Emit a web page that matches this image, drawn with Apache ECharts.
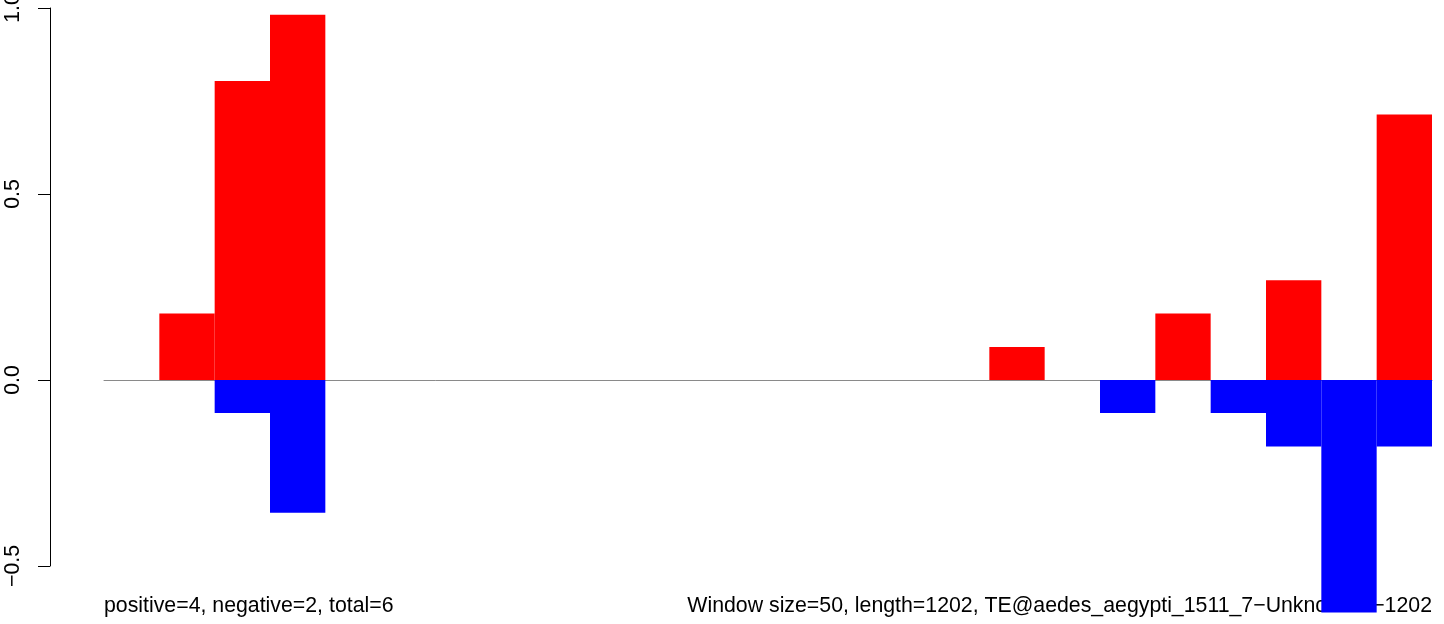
<!DOCTYPE html>
<html>
<head>
<meta charset="utf-8">
<script src="https://cdn.jsdelivr.net/npm/echarts@6/dist/echarts.min.js"></script>
<style>html,body{margin:0;padding:0;background:#fff}#c{width:1444px;height:624px}</style>
</head>
<body>
<div id="c"></div>
<script>
// window start positions (window size 50, length 1202)
const categories = ['1','51','101','151','201','251','301','351','401','451','501','551','601','651','701','751','801','851','901','951','1001','1051','1101','1151'];
const positiveValues = [0, 0.179, 0.804, 0.982, 0, 0, 0, 0, 0, 0, 0, 0, 0, 0, 0, 0, 0.089, 0, 0, 0.179, 0, 0.268, 0, 0.714];
const negativeValues = [0, 0, -0.089, -0.357, 0, 0, 0, 0, 0, 0, 0, 0, 0, 0, 0, 0, 0, 0, -0.089, 0, -0.089, -0.179, -0.625, -0.179];
const yTicks = [-0.5, 0.0, 0.5, 1.0];
const leftNote = 'positive=4, negative=2, total=6';
const rightNote = 'Window size=50, length=1202, TE@aedes_aegypti_1511_7\u2212Unknown:1\u22121202';

const FONT = "'Liberation Sans', Arial, Helvetica, sans-serif";
const chart = echarts.init(document.getElementById('c'), null, {renderer: 'canvas'});
chart.setOption({
  animation: false,
  backgroundColor: '#ffffff',
  grid: {left: 104, right: 12, top: 8, bottom: 58, containLabel: false, outerBoundsMode: 'none'},
  xAxis: {
    type: 'category',
    data: categories,
    boundaryGap: true,
    axisLine: {show: true, onZero: true, lineStyle: {color: '#8a8a8a', width: 1}},
    axisTick: {show: false},
    axisLabel: {show: false},
    splitLine: {show: false}
  },
  yAxis: {
    type: 'value',
    min: yTicks[0],
    max: yTicks[yTicks.length - 1],
    interval: 0.5,
    offset: 54,
    axisLine: {show: true, lineStyle: {color: '#000', width: 1}},
    axisTick: {show: true, length: 12, lineStyle: {color: '#000', width: 1}},
    splitLine: {show: false},
    axisLabel: {
      rotate: 90,
      margin: 26,
      color: '#000',
      fontFamily: FONT,
      fontSize: 21.3,
      hideOverlap: false,
      formatter: v => v.toFixed(1).replace('-', '\u2212')
    }
  },
  series: [
    {
      type: 'bar', name: 'positive', data: positiveValues,
      barGap: '-100%', barCategoryGap: 0, clip: false, z: 5,
      itemStyle: {color: '#ff0000'}
    },
    {
      type: 'bar', name: 'negative', data: negativeValues,
      barGap: '-100%', barCategoryGap: 0, clip: false, z: 5,
      itemStyle: {color: '#0000ff'}
    }
  ],
  graphic: [
    {type: 'text', left: 104, top: 596, z: 1, zlevel: 0,
     style: {text: leftNote, fill: '#000', font: '21.3px ' + FONT}},
    {type: 'text', right: 12, top: 596, z: 1, zlevel: 0,
     style: {text: rightNote, fill: '#000', font: '21.3px ' + FONT}}
  ]
});
</script>
</body>
</html>
